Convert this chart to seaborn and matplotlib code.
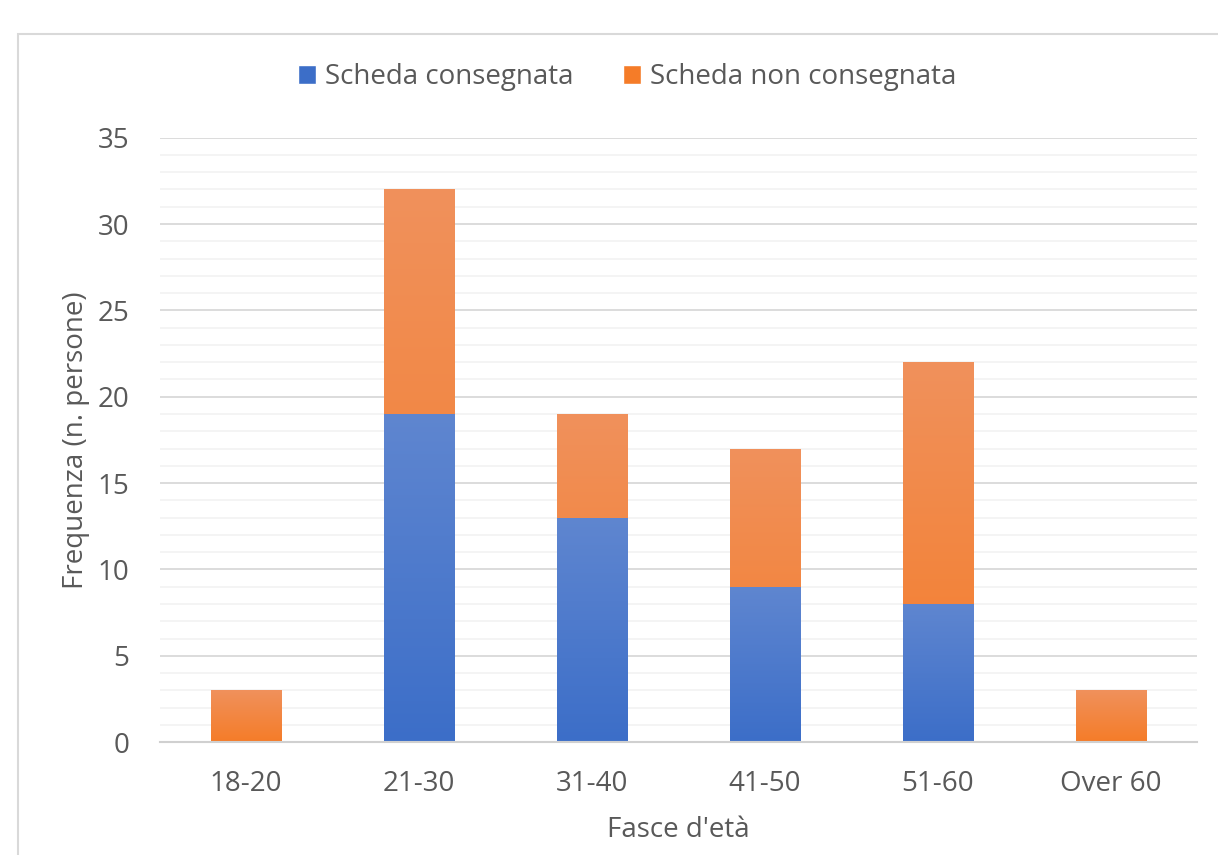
import matplotlib
matplotlib.use("Agg")
import matplotlib.pyplot as plt
from matplotlib.colors import LinearSegmentedColormap
from matplotlib.patches import Rectangle
import seaborn as sns
import pandas as pd
import numpy as np

# data
fasce = ["18-20", "21-30", "31-40", "41-50", "51-60", "Over 60"]
consegnata = [0, 19, 13, 9, 8, 0]
non_consegnata = [3, 13, 6, 8, 14, 3]

BLUE_TOP, BLUE_BOT = "#5F86D0", "#3C6EC8"
ORANGE_TOP, ORANGE_BOT = "#F0915C", "#F57C28"
TEXT = "#595959"
FS = 20

df = pd.DataFrame({"fascia": fasce,
                   "consegnata": consegnata,
                   "totale": np.add(consegnata, non_consegnata)})

sns.set_style("white")
plt.rcParams["font.family"] = ["Open Sans", "DejaVu Sans"]

fig = plt.figure(figsize=(12.18, 8.55), dpi=100)
ax = fig.add_axes([0.131, 0.132, 0.852, 0.707])

# outer chart frame (cut off at right/bottom like the screenshot)
fig.patches.append(Rectangle((18 / 1218, -0.1), 1.2, 1 - 34 / 855 + 0.1,
                             transform=fig.transFigure, fill=False,
                             edgecolor="#D9D9D9", lw=1.5, zorder=0))

sns.barplot(data=df, x="fascia", y="totale", color=ORANGE_BOT,
            width=0.405, ax=ax, zorder=2)
sns.barplot(data=df, x="fascia", y="consegnata", color=BLUE_BOT,
            width=0.405, ax=ax, zorder=3)


def gradient_fill(patch, top, bottom, z):
    x, y = patch.get_x(), patch.get_y()
    w, h = patch.get_width(), patch.get_height()
    if h <= 0:
        patch.set_visible(False)
        return
    cmap = LinearSegmentedColormap.from_list("g", [bottom, top])
    grad = np.linspace(0, 1, 256).reshape(-1, 1)
    im = ax.imshow(grad, cmap=cmap, origin="lower", aspect="auto",
                   extent=(x, x + w, y, y + h), zorder=z)
    im.set_clip_path(patch)
    patch.set_facecolor("none")
    patch.set_edgecolor("none")


n = len(fasce)
for p in ax.patches[:n]:
    # orange segment sits on top of the blue one
    gradient_fill(p, ORANGE_TOP, ORANGE_BOT, 2)
for p in ax.patches[n:2 * n]:
    gradient_fill(p, BLUE_TOP, BLUE_BOT, 3)

ax.set_xlim(-0.5, n - 0.5)
ax.set_ylim(0, 35)
ax.set_yticks(range(0, 36, 5))
ax.set_yticks(range(0, 36), minor=True)
ax.grid(axis="y", which="minor", color="#F2F2F2", lw=1.2, zorder=0)
ax.grid(axis="y", which="major", color="#D9D9D9", lw=1.3, zorder=0)
ax.set_axisbelow(True)

for s in ["top", "right", "left"]:
    ax.spines[s].set_visible(False)
ax.spines["bottom"].set_color("#D0D0D0")
ax.spines["bottom"].set_linewidth(1.5)
ax.spines["bottom"].set_zorder(4)

ax.tick_params(axis="both", which="both", length=0, labelsize=FS,
               labelcolor=TEXT)
ax.tick_params(axis="y", pad=22)
ax.tick_params(axis="x", pad=20)
ax.set_xlabel("Fasce d'età", fontsize=FS, color=TEXT, labelpad=13)
ax.set_ylabel("Frequenza (n. persone)", fontsize=FS, color=TEXT, labelpad=5)

handles = [Rectangle((0, 0), 1, 1, facecolor=BLUE_BOT),
           Rectangle((0, 0), 1, 1, facecolor=ORANGE_BOT)]
fig.legend(handles, ["Scheda consegnata", "Scheda non consegnata"],
           loc="center", bbox_to_anchor=(0.515, 1 - 77 / 855), ncol=2,
           frameon=False, fontsize=FS, labelcolor=TEXT,
           handlelength=0.65, handleheight=0.65, handletextpad=0.3,
           columnspacing=1.8)

fig.savefig("out.png", dpi=100)
